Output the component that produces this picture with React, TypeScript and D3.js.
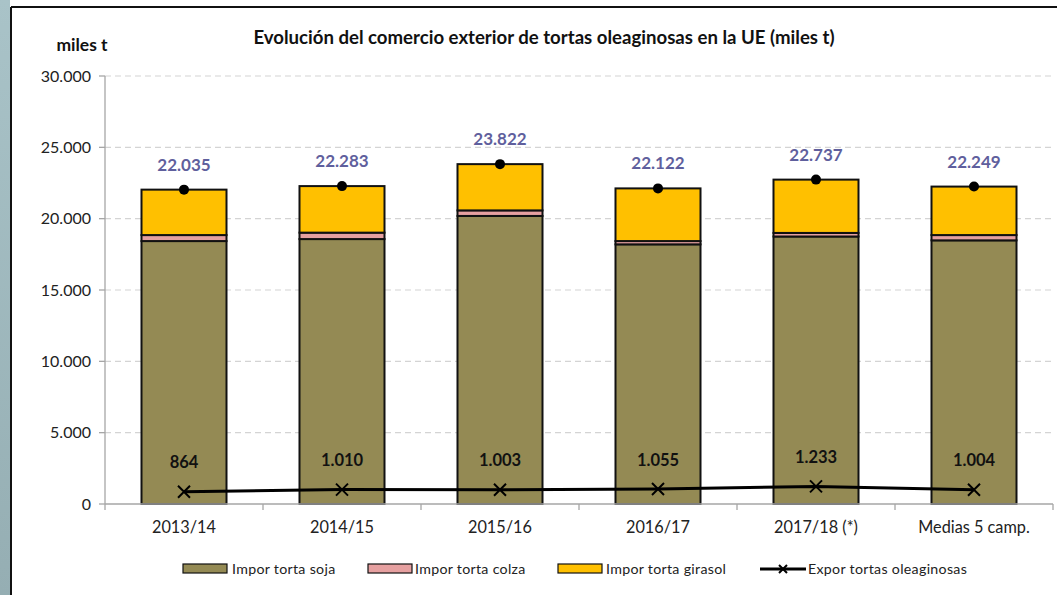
import React from "react";
import * as d3 from "d3";

const categories = ["2013/14", "2014/15", "2015/16", "2016/17", "2017/18 (*)", "Medias 5 camp."];
const soja = [18430, 18570, 20190, 18200, 18750, 18480];
const colza = [420, 450, 390, 230, 250, 370];
const totals = [22035, 22283, 23822, 22122, 22737, 22249];
const girasol = totals.map((t, i) => t - soja[i] - colza[i]);
const expor = [864, 1010, 1003, 1055, 1233, 1004];
const yTicks = [0, 5000, 10000, 15000, 20000, 25000, 30000];

const seriesNames = ["Impor torta soja", "Impor torta colza", "Impor torta girasol", "Expor tortas oleaginosas"];
const colors = ["#948a54", "#e6a0a0", "#ffc000"];

const W = 1057;
const H = 595;
const FONT = "Lato, 'Open Sans', sans-serif";

export default function App() {
  const x = d3.scaleBand<string>().domain(categories).range([105, 1053]).paddingInner(0.462).paddingOuter(0.231);
  const y = d3.scaleLinear().domain([0, 30000]).range([504, 76]);
  const loc = d3.formatLocale({ thousands: ".", decimal: ",", grouping: [3], currency: ["", "€"] });
  const fmt = loc.format(",d");

  const stackData = categories.map((c, i) => ({ cat: c, soja: soja[i], colza: colza[i], girasol: girasol[i] }));
  const stack = d3.stack<any>().keys(["soja", "colza", "girasol"])(stackData);

  const cx = (c: string) => (x(c) as number) + x.bandwidth() / 2;
  const line = d3.line<number>().x((_, i) => cx(categories[i])).y((d) => y(d));

  const legendItems = [
    { sx: 183, tx: 232 },
    { sx: 368, tx: 415 },
    { sx: 558, tx: 606 },
    { sx: 760, tx: 808 },
  ];

  return (
    <svg width={W} height={H} style={{ position: "absolute", left: 0, top: 0, background: "#fff" }} fontFamily={FONT}>
      <defs>
        <linearGradient id="strip" x1="0" y1="0" x2="0" y2="1">
          <stop offset="0" stopColor="#a9c3c8" />
          <stop offset="1" stopColor="#95aeb3" />
        </linearGradient>
      </defs>
      <rect x={0} y={0} width={W} height={H} fill="#fff" />
      <rect x={0} y={0} width={10} height={H} fill="url(#strip)" />
      <line x1={11} x2={11} y1={7} y2={H} stroke="#111" strokeWidth={2} />
      <line x1={11} x2={W} y1={7} y2={7} stroke="#111" strokeWidth={2} />

      {/* titles */}
      <text x={544} y={44} textAnchor="middle" fontSize={18.6} fontWeight="bold" fill="#111">
        Evolución del comercio exterior de tortas oleaginosas en la UE (miles t)
      </text>
      <text x={82} y={51} textAnchor="middle" fontSize={17.5} fontWeight="bold" fill="#111">
        miles t
      </text>

      {/* gridlines */}
      {yTicks.filter((t) => t > 0).map((t) => (
        <line key={t} x1={105} x2={1053} y1={y(t)} y2={y(t)} stroke="#d4d4d4" strokeDasharray="6,4" strokeWidth={1.2} />
      ))}

      {/* y axis */}
      <line x1={105} x2={105} y1={y(30000)} y2={y(0)} stroke="#a6a6a6" strokeWidth={1.3} />
      {yTicks.map((t) => (
        <g key={t}>
          <line x1={99} x2={105} y1={y(t)} y2={y(t)} stroke="#a6a6a6" strokeWidth={1.3} />
          <text x={91} y={y(t)} dy="0.35em" textAnchor="end" fontSize={16} fill="#222">
            {fmt(t)}
          </text>
        </g>
      ))}

      {/* bars */}
      {stack.map((layer, li) =>
        layer.map((d, i) => (
          <rect
            key={li + "-" + i}
            x={x(categories[i])}
            y={y(d[1])}
            width={x.bandwidth()}
            height={y(d[0]) - y(d[1])}
            fill={colors[li]}
            stroke="#111"
            strokeWidth={2}
          />
        ))
      )}

      {/* x axis */}
      <line x1={105} x2={1053} y1={504} y2={504} stroke="#a6a6a6" strokeWidth={1.3} />
      {d3.range(categories.length + 1).map((k) => {
        const xx = 105 + k * x.step();
        return <line key={k} x1={xx} x2={xx} y1={504} y2={510} stroke="#a6a6a6" strokeWidth={1.3} />;
      })}
      {categories.map((c) => (
        <text key={c} x={cx(c)} y={527} dy="0.35em" textAnchor="middle" fontSize={16.3} fill="#222">
          {c}
        </text>
      ))}

      {/* total markers and labels */}
      {totals.map((t, i) => (
        <g key={"t" + i}>
          <circle cx={cx(categories[i])} cy={y(t)} r={5} fill="#000" />
          <text x={cx(categories[i])} y={y(t) - 25} dy="0.35em" textAnchor="middle" fontSize={17} fontWeight="bold" fill="#5f5f9d">
            {fmt(t)}
          </text>
        </g>
      ))}

      {/* export line */}
      <path d={line(expor) || ""} fill="none" stroke="#000" strokeWidth={3} />
      {expor.map((v, i) => {
        const px = cx(categories[i]);
        const py = y(v);
        const s = 6;
        return (
          <g key={"e" + i}>
            <path d={`M${px - s},${py - s}L${px + s},${py + s}M${px - s},${py + s}L${px + s},${py - s}`} stroke="#000" strokeWidth={2} />
            <text x={px} y={py - 29} dy="0.35em" textAnchor="middle" fontSize={16.5} fontWeight="bold" fill="#111">
              {fmt(v)}
            </text>
          </g>
        );
      })}

      {/* legend */}
      {legendItems.map((l, i) => (
        <g key={"l" + i}>
          {i < 3 ? (
            <rect x={l.sx} y={564} width={44} height={9} fill={colors[i]} stroke="#111" strokeWidth={1.2} />
          ) : (
            <g>
              <line x1={l.sx} x2={l.sx + 46} y1={569} y2={569} stroke="#000" strokeWidth={3} />
              <path d={`M${l.sx + 19},${565}L${l.sx + 27},${573}M${l.sx + 19},${573}L${l.sx + 27},${565}`} stroke="#000" strokeWidth={2} />
            </g>
          )}
          <text x={l.tx} y={569} dy="0.35em" fontSize={14.2} letterSpacing={0.3} fill="#222">
            {seriesNames[i]}
          </text>
        </g>
      ))}
    </svg>
  );
}
